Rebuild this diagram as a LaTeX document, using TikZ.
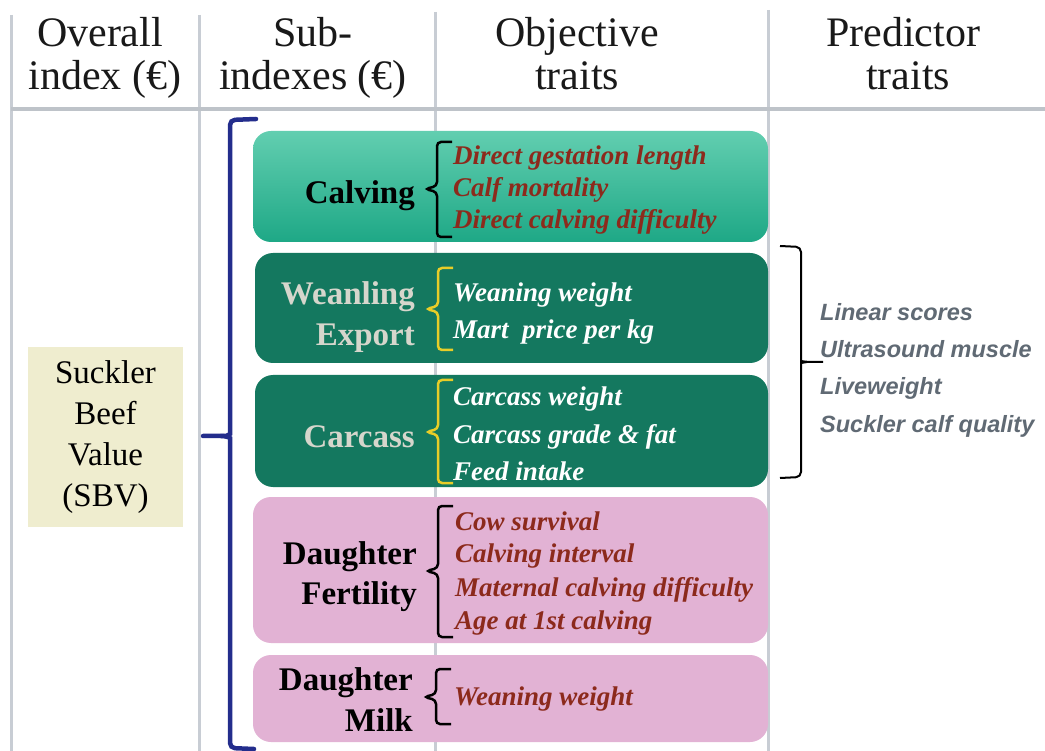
\documentclass[tikz,border=0pt]{standalone}
\usepackage{fontspec}
\setmainfont{Liberation Serif}
\newfontfamily\arialf{Liberation Sans}
\definecolor{gridc}{RGB}{200,205,212}
\definecolor{tealtop}{RGB}{98,206,176}
\definecolor{tealbot}{RGB}{30,168,134}
\definecolor{dkgreen}{RGB}{20,120,95}
\definecolor{pinkc}{RGB}{226,178,212}
\definecolor{sbvc}{RGB}{239,237,207}
\definecolor{brownc}{RGB}{140,42,28}
\definecolor{lightlab}{RGB}{214,214,204}
\definecolor{predc}{RGB}{96,106,116}
\definecolor{bluebrc}{RGB}{35,45,140}
\definecolor{yellowbr}{RGB}{232,205,40}
\newcommand{\mybrace}[5][black]{\draw[#1, line width=2.5pt, rounded corners=4pt] (#2+15,#3) -- (#2,#3) -- (#2,#5-3) -- (#2-12,#5) -- (#2,#5+3) -- (#2,#4) -- (#2+15,#4);}
\begin{document}
\begin{tikzpicture}[x=1pt,y=-1pt,
  grid/.style={draw=gridc, line width=3pt},
  hdr/.style={font=\fontsize{42}{46}\selectfont, anchor=base, inner sep=0pt, text=black!90},
  sub/.style={font=\fontsize{33}{40}\selectfont\bfseries, anchor=base east, inner sep=0pt},
  obj/.style={font=\fontsize{27}{32}\selectfont\bfseries\itshape, anchor=base west, inner sep=0pt},
  pred/.style={font=\arialf\fontsize{23.5}{28}\selectfont\bfseries\itshape, anchor=base west, inner sep=0pt, text=predc},
  sbox/.style={rounded corners=18pt, minimum width=515pt, inner sep=0pt},
  bluebr/.style={draw=bluebrc, line width=4.5pt, line cap=round}
]
\useasboundingbox (0,0) rectangle (1045,751);
\fill[white] (0,0) rectangle (1045,751);
% grid
\draw[grid] (11,15) -- (11,751);
\draw[grid] (199,15) -- (199,751);
\draw[grid] (435,12) -- (435,751);
\draw[grid] (768,10) -- (768,751);
\draw[grid, line width=4.5pt, draw=gridc!95!black] (11,109) -- (1045,109);
% headers
\node[hdr] (h1a) at (100,47) {Overall};
\node[hdr] (h1b) at (105,90) {index (€)};
\node[hdr] (h2a) at (313,47) {Sub-};
\node[hdr] (h2b) at (313,90) {indexes (€)};
\node[hdr] (h3a) at (577,47) {Objective};
\node[hdr] (h3b) at (577,90) {traits};
\node[hdr] (h4a) at (903,47) {Predictor};
\node[hdr] (h4b) at (908,90) {traits};
% SBV
\node[fill=sbvc, minimum width=155pt, minimum height=180pt, align=center, inner sep=0pt,
  font=\fontsize{33}{41}\selectfont] (sbv) at (105.5,437) {Suckler\\Beef\\Value\\(SBV)};
% boxes
\node[sbox, top color=tealtop, bottom color=tealbot, minimum height=111pt] (calv) at (510.5,186.5) {};
\node[sbox, fill=dkgreen, minimum width=513pt, minimum height=110pt] (wean) at (511.5,308) {};
\node[sbox, fill=dkgreen, minimum width=513pt, minimum height=112pt] (carc) at (511.5,431) {};
\node[sbox, fill=pinkc, minimum height=146pt] (fert) at (510.5,570) {};
\node[sbox, fill=pinkc, minimum height=87pt] (milk) at (510.5,698.5) {};
% sub-index labels
\node[sub] (lcalv) at (415,204) {Calving};
\node[sub, text=lightlab] (lwean1) at (415,305) {Weanling};
\node[sub, text=lightlab] (lwean2) at (415,346) {Export};
\node[sub, text=lightlab] (lcarc) at (415,447) {Carcass};
\node[sub] (lfert1) at (417,564) {Daughter};
\node[sub] (lfert2) at (417,604) {Fertility};
\node[sub] (lmilk1) at (413,690) {Daughter};
\node[sub] (lmilk2) at (413,731) {Milk};
% braces
\mybrace{437}{142}{237}{189}
\mybrace[yellowbr]{438}{268}{350}{309}
\mybrace[yellowbr]{438}{380}{483}{432}
\mybrace{438}{506}{637}{571}
\mybrace{436}{669}{724}{697}
% objective traits
\node[obj, text=brownc] (o1) at (453,165) {Direct gestation length};
\node[obj, text=brownc] (o2) at (453,197) {Calf mortality};
\node[obj, text=brownc] (o3) at (453,229) {Direct calving difficulty};
\node[obj, text=white] (o4) at (453,302) {Weaning weight};
\node[obj, text=white] (o5) at (453,339) {Mart\ \ price per kg};
\node[obj, text=white] (o6) at (453,406) {Carcass weight};
\node[obj, text=white] (o7) at (453,443) {Carcass grade \& fat};
\node[obj, text=white] (o8) at (453,480) {Feed intake};
\node[obj, text=brownc] (o9) at (455,530) {Cow survival};
\node[obj, text=brownc] (o10) at (455,562) {Calving interval};
\node[obj, text=brownc] (o11) at (455,596) {Maternal calving difficulty};
\node[obj, text=brownc] (o12) at (455,629) {Age at 1st calving};
\node[obj, text=brownc] (o13) at (454,705) {Weaning weight};
% predictor brace
\draw[black, line width=2pt, rounded corners=5pt] (780,246) -- (801,247) -- (801,356) .. controls (801,361) .. (807,362) -- (823,362);
\draw[black, line width=2pt, rounded corners=5pt] (807,362) .. controls (801,363) .. (801,368) -- (801,477) -- (780,478);
% predictor traits
\node[pred] (p1) at (820,321) {Linear scores};
\node[pred] (p2) at (820,358) {Ultrasound muscle};
\node[pred] (p3) at (820,395) {Liveweight};
\node[pred] (p4) at (820,433) {Suckler calf quality};
% blue bracket
\draw[bluebr, rounded corners=5pt] (256,119) -- (230,120) -- (230,429) .. controls (230,434) and (227,436) .. (221,436) -- (203,436);
\draw[bluebr, rounded corners=5pt] (221,436) .. controls (227,436) and (230,438) .. (230,443) -- (230,748) -- (254,749);
\end{tikzpicture}
\end{document}
